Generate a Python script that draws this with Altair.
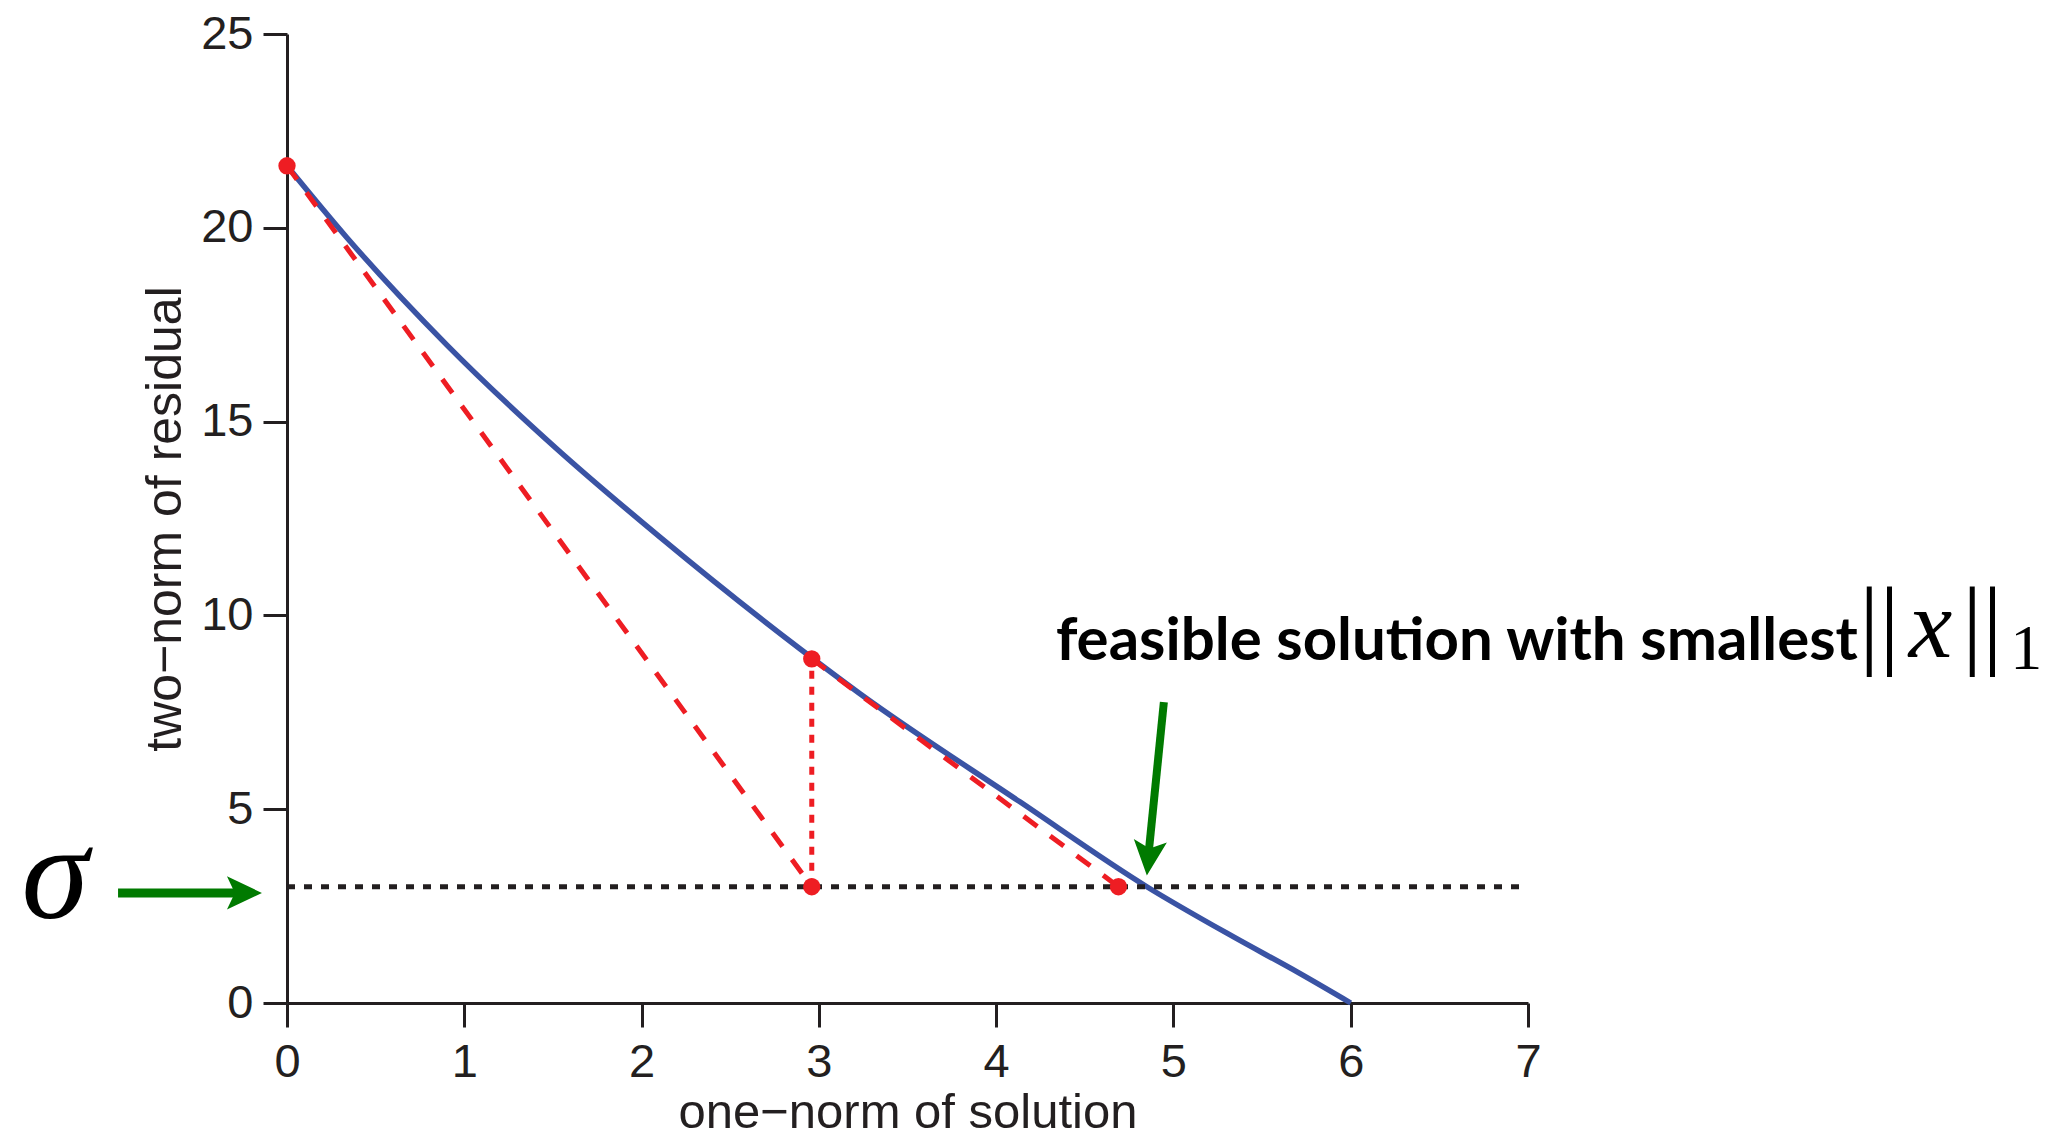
import altair as alt
import pandas as pd

# ---- data ----
curve_x = [0.0, 0.337, 0.901, 1.521, 2.104, 2.893, 3.232, 4.134, 4.85, 5.337, 5.71, 6.0]
curve_y = [21.6, 19.75, 16.98, 14.30, 12.02, 9.14, 7.98, 5.19, 3.0, 1.71, 0.77, 0.0]

sigma = 3.0
point_x = [0.0, 2.96, 2.96, 4.69]
point_y = [21.6, 3.0, 8.88, 3.0]

dash_group = ["left", "left", "right", "right"]
dash_x = [0.0, 2.96, 2.96, 4.69]
dash_y = [21.6, 3.0, 8.88, 3.0]

vert_x = [2.96]
vert_y = [3.0]
vert_y2 = [8.88]

x_ticks = [0, 1, 2, 3, 4, 5, 6, 7]
y_ticks = [0, 5, 10, 15, 20, 25]

# annotation anchors (data coordinates)
harrow_x, harrow_x2, harrow_y = [-0.953], [-0.27], [2.84]
harrow_head_x, harrow_head_y = [-0.24], [2.84]
varrow_x, varrow_y, varrow_x2, varrow_y2 = [4.946], [7.76], [4.862], [3.95]
varrow_head_x, varrow_head_y = [4.860], [3.737]

ink = "#231F20"
blue = "#3A53A4"
red = "#EE1D23"
green = "#007A00"

xs = alt.Scale(domain=[0, 7], nice=False, zero=False)
ys = alt.Scale(domain=[0, 25], nice=False, zero=False)

xaxis = alt.Axis(values=x_ticks, format="d", grid=False, tickSize=24, tickWidth=3,
                 domainWidth=3, domainColor=ink, tickColor=ink, labelFontSize=47,
                 labelFont="Liberation Sans", labelColor=ink, labelPadding=12,
                 labelFlush=False, titleFontSize=49, titleFont="Liberation Sans",
                 titleFontWeight="normal", titleColor=ink, titleY=124,
                 titleBaseline="alphabetic")
yaxis = alt.Axis(values=y_ticks, format="d", grid=False, tickSize=24, tickWidth=3,
                 domainWidth=3, domainColor=ink, tickColor=ink, labelFontSize=47,
                 labelFont="Liberation Sans", labelColor=ink, labelPadding=10,
                 labelFlush=False, titleFontSize=50, titleFont="Liberation Sans",
                 titleFontWeight="normal", titleColor=ink, titleX=-107, titleY=484.5,
                 titleAngle=270, titleAlign="center", titleBaseline="alphabetic")

XT = "one\u2212norm of solution"
YT = "two\u2212norm of residual"


def X(f="x"):
    return alt.X(f, type="quantitative", scale=xs, axis=xaxis, title=XT)


def Y(f="y"):
    return alt.Y(f, type="quantitative", scale=ys, axis=yaxis, title=YT)


curve_df = pd.DataFrame({"x": curve_x, "y": curve_y})
curve = alt.Chart(curve_df).mark_line(color=blue, strokeWidth=5.5, interpolate="monotone").encode(
    x=X(), y=Y())

sigma_df = pd.DataFrame({"x": [0.0], "x2": [7.0], "y": [sigma]})
sigma_line = alt.Chart(sigma_df).mark_rule(color=ink, strokeWidth=5, strokeDash=[8, 9]).encode(
    x=X(), x2="x2", y=Y())

dash_df = pd.DataFrame({"g": dash_group, "x": dash_x, "y": dash_y})
dashed = alt.Chart(dash_df).mark_line(color=red, strokeWidth=5, strokeDash=[17, 16]).encode(
    x=X(), y=Y(), detail="g")

vert_df = pd.DataFrame({"x": vert_x, "y": vert_y, "y2": vert_y2})
vert = alt.Chart(vert_df).mark_rule(color=red, strokeWidth=5, strokeDash=[8, 8]).encode(
    x=X(), y=Y(), y2="y2")

pts_df = pd.DataFrame({"x": point_x, "y": point_y})
pts = alt.Chart(pts_df).mark_circle(color=red, size=300, opacity=1).encode(x=X(), y=Y())

head_path = "M1,0 L-1,-0.95 L-0.55,0 L-1,0.95 Z"

hshaft_df = pd.DataFrame({"x": harrow_x, "x2": harrow_x2, "y": harrow_y})
hshaft = alt.Chart(hshaft_df).mark_rule(color=green, strokeWidth=9).encode(x=X(), x2="x2", y=Y())
hhead_df = pd.DataFrame({"x": harrow_head_x, "y": harrow_head_y})
hhead = alt.Chart(hhead_df).mark_point(shape=head_path, filled=True, size=1225, color=green,
                                       opacity=1, strokeWidth=0).encode(x=X(), y=Y())

vshaft_df = pd.DataFrame({"x": varrow_x, "y": varrow_y, "x2": varrow_x2, "y2": varrow_y2})
vshaft = alt.Chart(vshaft_df).mark_rule(color=green, strokeWidth=8).encode(
    x=X(), y=Y(), x2="x2", y2="y2")
vhead_df = pd.DataFrame({"x": varrow_head_x, "y": varrow_head_y})
vhead = alt.Chart(vhead_df).mark_point(shape=head_path, filled=True, size=1225, color=green,
                                       opacity=1, strokeWidth=0, angle=95.7).encode(x=X(), y=Y())

sig_df = pd.DataFrame({"x": [-1.309], "y": [2.19], "t": ["\u03c3"]})
sig_text = alt.Chart(sig_df).mark_text(font="Liberation Serif", fontStyle="italic", fontSize=136,
                                       align="center", baseline="alphabetic", color="black").encode(
    x=X(), y=Y(), text="t")

lab_df = pd.DataFrame({"x": [4.337], "y": [8.84], "t": ["feasible solution with smallest"]})
lab_text = alt.Chart(lab_df).mark_text(font="Lato", fontWeight="bold", fontSize=60, align="left",
                                       baseline="alphabetic", color="black").encode(
    x=X(), y=Y(), text="t")

bars_df = pd.DataFrame({"x": [8.982, 9.563], "y": [8.94, 8.94], "t": ["||", "||"]})
bars_text = alt.Chart(bars_df).mark_text(font="Liberation Serif", fontSize=100, align="center",
                                         baseline="alphabetic", color="black").encode(
    x=X(), y=Y(), text="t")

xv_df = pd.DataFrame({"x": [9.27], "y": [8.92], "t": ["x"]})
xv_text = alt.Chart(xv_df).mark_text(font="Liberation Serif", fontStyle="italic", fontSize=98,
                                     align="center", baseline="alphabetic", color="black").encode(
    x=X(), y=Y(), text="t")

one_df = pd.DataFrame({"x": [9.81], "y": [8.61], "t": ["1"]})
one_text = alt.Chart(one_df).mark_text(font="Liberation Serif", fontSize=64, align="center",
                                       baseline="alphabetic", color="black").encode(
    x=X(), y=Y(), text="t")

chart = alt.layer(
    curve, sigma_line, dashed, vert, pts, hshaft, hhead, vshaft, vhead,
    sig_text, lab_text, bars_text, xv_text, one_text
).properties(
    width=1241, height=969,
    padding={"left": 287, "top": 34, "right": 542, "bottom": 133},
    autosize=alt.AutoSizeParams(type="none"),
    background="white",
).configure_view(stroke=None)

chart.save("out.html", embed_options={"renderer": "svg", "actions": False})
